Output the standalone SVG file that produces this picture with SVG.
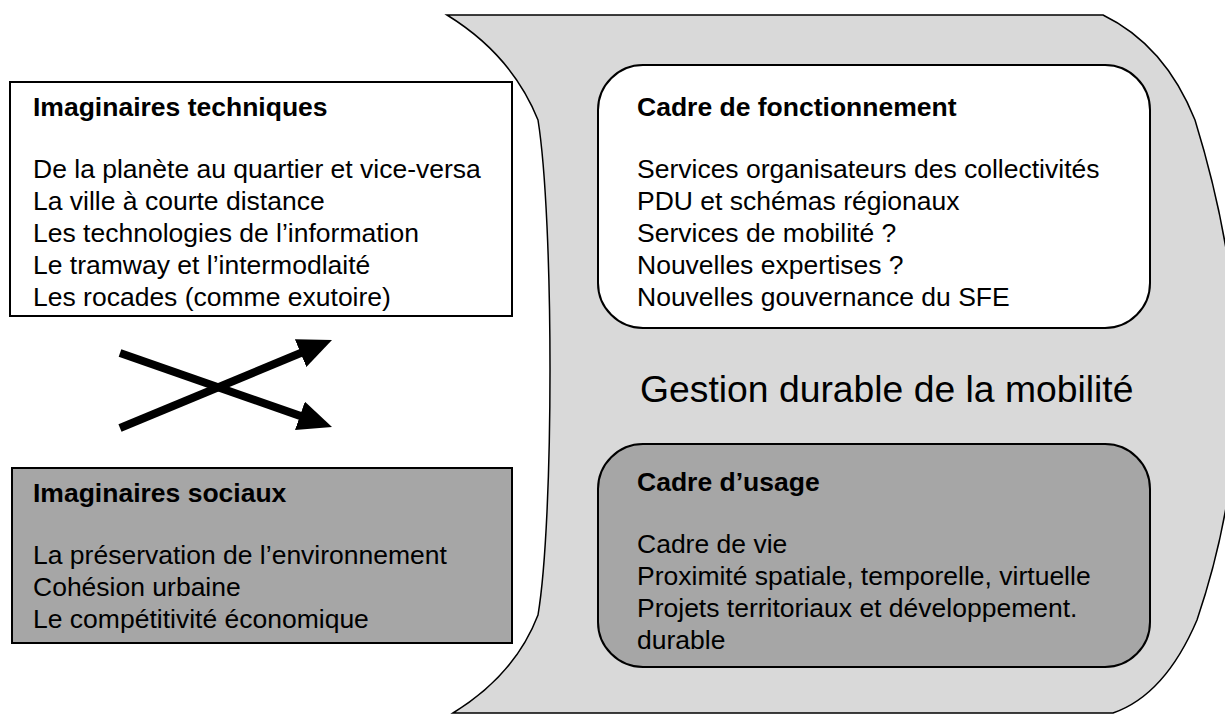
<svg xmlns="http://www.w3.org/2000/svg" width="1225" height="715" viewBox="0 0 1225 715">
<style>
.t{font-family:"Liberation Sans",Arial,sans-serif;font-size:26.5px;fill:#000}
.b{font-weight:bold}
.big{font-family:"Liberation Sans",Arial,sans-serif;font-size:37.3px;fill:#000}
.box{stroke:#000;stroke-width:2}
.conn{stroke:#000;stroke-width:8;fill:none;marker-end:url(#ah)}
</style>
<defs>
<marker id="ah" markerUnits="userSpaceOnUse" markerWidth="34" markerHeight="30" viewBox="0 0 34 30" refX="4" refY="15" orient="auto">
<path d="M0,0 L34,15 L0,30 z" fill="#000"/>
</marker>
</defs>
<rect width="1225" height="715" fill="#fff"/>
<g id="gestion">
<path d="M447,15 L1103,15 Q1165,45 1195,120 C1235,250 1265,420 1197,620 Q1165,695 1113,713 L453,713 Q515,675 538,615 C554,520 554,220 538,120 Q512,55 447,15 Z" fill="#d9d9d9" stroke="#000" stroke-width="1.5"/>
<text class="big" x="640" y="402">Gestion durable de la mobilité</text>
</g>
<g id="imaginaires-techniques">
<rect class="box" x="10" y="82" width="502" height="234" fill="#fff"/>
<text class="t b" x="33" y="116">Imaginaires techniques</text>
<text class="t" x="33" y="178">De la planète au quartier et vice-versa</text>
<text class="t" x="33" y="210">La ville à courte distance</text>
<text class="t" x="33" y="242">Les technologies de l’information</text>
<text class="t" x="33" y="274">Le tramway et l’intermodlaité</text>
<text class="t" x="33" y="306">Les rocades (comme exutoire)</text>
</g>
<g id="imaginaires-sociaux">
<rect class="box" x="12" y="468" width="500" height="175" fill="#a6a6a6"/>
<text class="t b" x="33" y="502">Imaginaires sociaux</text>
<text class="t" x="33" y="564">La préservation de l’environnement</text>
<text class="t" x="33" y="596">Cohésion urbaine</text>
<text class="t" x="33" y="628">Le compétitivité économique</text>
</g>
<g id="cadre-fonctionnement">
<rect class="box" x="598" y="65" width="552" height="263" rx="45" ry="45" fill="#fff"/>
<text class="t b" x="637" y="116">Cadre de fonctionnement</text>
<text class="t" x="637" y="178">Services organisateurs des collectivités</text>
<text class="t" x="637" y="210">PDU et schémas régionaux</text>
<text class="t" x="637" y="242">Services de mobilité ?</text>
<text class="t" x="637" y="274">Nouvelles expertises ?</text>
<text class="t" x="637" y="306">Nouvelles gouvernance du SFE</text>
</g>
<g id="cadre-usage">
<rect class="box" x="598" y="444" width="552" height="223" rx="45" ry="45" fill="#a6a6a6"/>
<text class="t b" x="637" y="491">Cadre d’usage</text>
<text class="t" x="637" y="553">Cadre de vie</text>
<text class="t" x="637" y="585">Proximité spatiale, temporelle, virtuelle</text>
<text class="t" x="637" y="617">Projets territoriaux et développement.</text>
<text class="t" x="637" y="649">durable</text>
</g>
<g id="connectors">
<line class="conn" x1="120" y1="353" x2="303.7" y2="417.1"/>
<line class="conn" x1="120" y1="428" x2="304.3" y2="351.5"/>
</g>
</svg>
